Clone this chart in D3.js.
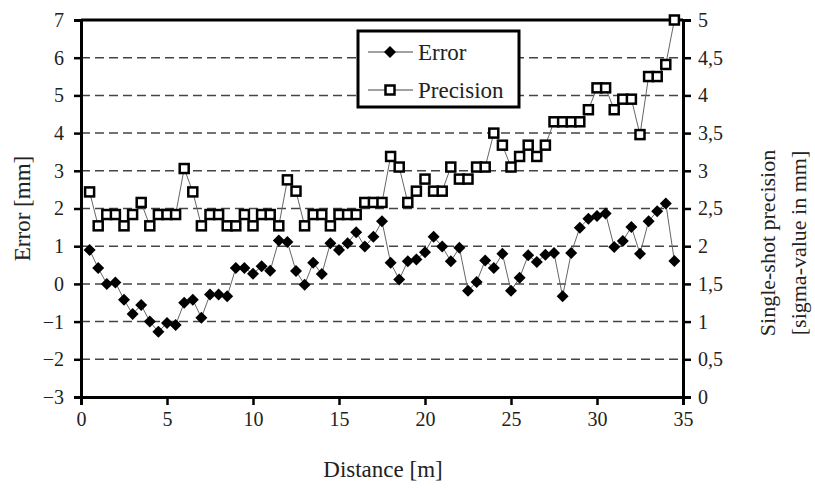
<!DOCTYPE html>
<html>
<head>
<meta charset="utf-8">
<script src="https://cdn.jsdelivr.net/npm/d3@7"></script>
<style>
  body { margin: 0; background: #fff; }
  text { font-family: "Liberation Serif", "DejaVu Serif", serif; fill: #222; }
</style>
</head>
<body>
<div id="chart"></div>
<script>
// distance along the track, one reading every half metre
const distance = [0.5, 1, 1.5, 2, 2.5, 3, 3.5, 4, 4.5, 5, 5.5, 6, 6.5, 7, 7.5, 8, 8.5, 9, 9.5, 10,
    10.5, 11, 11.5, 12, 12.5, 13, 13.5, 14, 14.5, 15, 15.5, 16, 16.5, 17, 17.5, 18, 18.5, 19, 19.5, 20,
    20.5, 21, 21.5, 22, 22.5, 23, 23.5, 24, 24.5, 25, 25.5, 26, 26.5, 27, 27.5, 28, 28.5, 29, 29.5, 30,
    30.5, 31, 31.5, 32, 32.5, 33, 33.5, 34, 34.5];

// error in mm (left axis)
const errorMm = [0.9, 0.42, 0.0, 0.04, -0.42, -0.8, -0.56, -1.0, -1.27, -1.04, -1.09, -0.5, -0.42, -0.9, -0.28, -0.28, -0.33, 0.42, 0.42, 0.27,
    0.47, 0.35, 1.15, 1.11, 0.34, -0.02, 0.56, 0.26, 1.08, 0.9, 1.08, 1.37, 0.99, 1.25, 1.66, 0.56, 0.12, 0.6, 0.65, 0.84,
    1.25, 0.99, 0.6, 0.96, -0.18, 0.05, 0.62, 0.42, 0.8, -0.18, 0.16, 0.76, 0.58, 0.77, 0.82, -0.33, 0.82, 1.49, 1.73, 1.8,
    1.87, 0.98, 1.14, 1.51, 0.8, 1.66, 1.93, 2.13, 0.61];

// single-shot precision, sigma in mm (right axis)
const precision = [2.72, 2.27, 2.42, 2.42, 2.27, 2.42, 2.58, 2.27, 2.42, 2.42, 2.42, 3.03, 2.72, 2.27, 2.42, 2.42, 2.27, 2.27, 2.42, 2.27,
    2.42, 2.42, 2.27, 2.88, 2.73, 2.27, 2.42, 2.42, 2.27, 2.42, 2.42, 2.42, 2.58, 2.58, 2.58, 3.19, 3.05, 2.58, 2.73, 2.89,
    2.73, 2.73, 3.05, 2.89, 2.89, 3.05, 3.05, 3.5, 3.34, 3.05, 3.19, 3.34, 3.19, 3.34, 3.65, 3.65, 3.65, 3.65, 3.81, 4.1,
    4.1, 3.81, 3.95, 3.95, 3.48, 4.25, 4.25, 4.41, 5.0];

const xTicks = [0, 5, 10, 15, 20, 25, 30, 35];
const leftTicks = [-3, -2, -1, 0, 1, 2, 3, 4, 5, 6, 7];
const rightTicks = [0, 0.5, 1, 1.5, 2, 2.5, 3, 3.5, 4, 4.5, 5];

const width = 815, height = 489;
const margin = { top: 20, right: 132, bottom: 92, left: 81 };

const svg = d3.select("#chart").append("svg")
    .attr("width", width)
    .attr("height", height);

const x = d3.scaleLinear().domain([0, 35]).range([margin.left, width - margin.right]);
const yL = d3.scaleLinear().domain([-3, 7]).range([height - margin.bottom, margin.top]);
const yR = d3.scaleLinear().domain([0, 5]).range([height - margin.bottom, margin.top]);

// dashed grid
svg.append("g")
    .selectAll("line")
    .data(leftTicks.slice(1, -1))
    .enter().append("line")
    .attr("x1", x(0)).attr("x2", x(35))
    .attr("y1", d => yL(d)).attr("y2", d => yL(d))
    .attr("stroke", "#444")
    .attr("stroke-width", 1.5)
    .attr("stroke-dasharray", "9,5");

// top border
svg.append("line")
    .attr("x1", x(0)).attr("x2", x(35))
    .attr("y1", yL(7)).attr("y2", yL(7))
    .attr("stroke", "#000").attr("stroke-width", 3);

const xAxis = svg.append("g")
    .attr("transform", `translate(0,${yL(-3)})`)
    .call(d3.axisBottom(x).tickValues(xTicks).tickSize(8).tickPadding(7));

const leftAxis = svg.append("g")
    .attr("transform", `translate(${x(0)},0)`)
    .call(d3.axisLeft(yL).tickValues(leftTicks).tickSize(7).tickPadding(10));

const rightAxis = svg.append("g")
    .attr("transform", `translate(${x(35)},0)`)
    .call(d3.axisRight(yR).tickValues(rightTicks).tickSize(8).tickPadding(7)
        .tickFormat(d => String(d).replace(".", ",")));

[xAxis, leftAxis, rightAxis].forEach(g => {
    g.select(".domain").attr("stroke", "#000").attr("stroke-width", 3);
    g.selectAll(".tick line").attr("stroke", "#000").attr("stroke-width", 2.5);
    g.selectAll(".tick text")
        .style("font-family", "Liberation Serif, serif")
        .style("font-size", "20px")
        .attr("fill", "#222");
});

// axis titles
svg.append("text")
    .attr("transform", `translate(30,${yL(2)}) rotate(-90)`)
    .attr("text-anchor", "middle")
    .style("font-size", "23px")
    .text("Error [mm]");

svg.append("text")
    .attr("transform", `translate(${(x(0) + x(35)) / 2 + 1},477)`)
    .attr("text-anchor", "middle")
    .style("font-size", "23px")
    .text("Distance [m]");

svg.append("text")
    .attr("transform", `translate(775,243) rotate(-90)`)
    .attr("text-anchor", "middle")
    .style("font-size", "22px")
    .text("Single-shot precision");

svg.append("text")
    .attr("transform", `translate(806,243) rotate(-90)`)
    .attr("text-anchor", "middle")
    .style("font-size", "22px")
    .text("[sigma-value in mm]");

const diamond = d3.symbol().type(d3.symbolSquare).size(72);

// precision series
const precLine = d3.line().x((d, i) => x(distance[i])).y(d => yR(d));
svg.append("path")
    .datum(precision)
    .attr("d", precLine)
    .attr("fill", "none")
    .attr("stroke", "#666")
    .attr("stroke-width", 1);

// error series
const errLine = d3.line().x((d, i) => x(distance[i])).y(d => yL(d));
svg.append("path")
    .datum(errorMm)
    .attr("d", errLine)
    .attr("fill", "none")
    .attr("stroke", "#666")
    .attr("stroke-width", 1);

svg.append("g")
    .selectAll("rect")
    .data(precision)
    .enter().append("rect")
    .attr("x", (d, i) => x(distance[i]) - 4.5)
    .attr("y", d => yR(d) - 4.5)
    .attr("width", 9).attr("height", 9)
    .attr("fill", "#fff")
    .attr("stroke", "#000")
    .attr("stroke-width", 2.5);

svg.append("g")
    .selectAll("path")
    .data(errorMm)
    .enter().append("path")
    .attr("d", diamond)
    .attr("transform", (d, i) => `translate(${x(distance[i])},${yL(d)}) rotate(45)`)
    .attr("fill", "#000");

// legend
const legend = svg.append("g").attr("transform", "translate(358,31)");
legend.append("rect")
    .attr("width", 161).attr("height", 76)
    .attr("fill", "#fff")
    .attr("stroke", "#000")
    .attr("stroke-width", 3);

const legItems = ["Error", "Precision"];
legItems.forEach((name, i) => {
    const ly = 21 + i * 38;
    legend.append("line")
        .attr("x1", 10).attr("x2", 55)
        .attr("y1", ly).attr("y2", ly)
        .attr("stroke", "#444").attr("stroke-width", 1);
    if (i === 0) {
        legend.append("path")
            .attr("d", diamond)
            .attr("transform", `translate(32,${ly}) rotate(45)`)
            .attr("fill", "#000");
    } else {
        legend.append("rect")
            .attr("x", 27.5).attr("y", ly - 4.5)
            .attr("width", 9).attr("height", 9)
            .attr("fill", "#fff").attr("stroke", "#000").attr("stroke-width", 2.5);
    }
    legend.append("text")
        .attr("x", 60).attr("y", ly + 8)
        .style("font-size", "23px")
        .text(name);
});
</script>
</body>
</html>
